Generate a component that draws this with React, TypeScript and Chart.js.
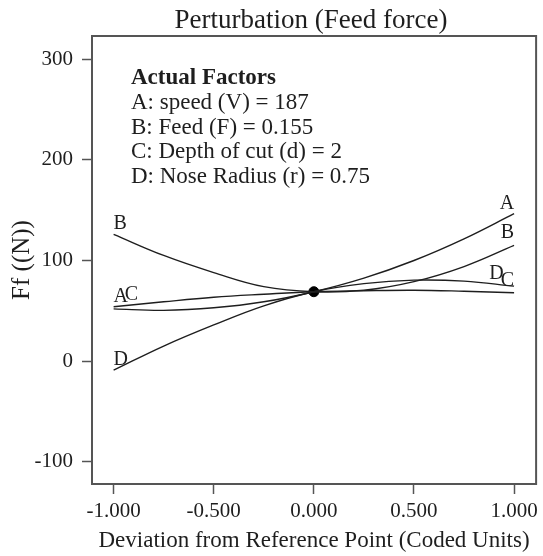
import React, { useEffect, useRef } from "react";
import { Chart, registerables } from "chart.js";

Chart.register(...registerables);

// Coded deviation from the reference point
const xValues = [-1, -0.75, -0.5, -0.25, 0, 0.25, 0.5, 0.75, 1];
// Feed force Ff (N) for each factor perturbation
const seriesA = [52, 50.5, 53, 59, 69, 82.5, 100, 121.5, 146.5];
const seriesB = [126, 105, 88, 74, 69, 70.5, 79, 94, 115];
const seriesC = [54, 59, 63.5, 66.5, 69, 70, 70.5, 69.5, 68];
const seriesD = [-9, 15, 36, 55, 69, 77, 80.5, 79.5, 74.5];
const referenceX = [0];
const referenceY = [69];

const xTicks = [-1, -0.5, 0, 0.5, 1];
const xTickLabels = ["-1.000", "-0.500", "0.000", "0.500", "1.000"];
const yTicks = [-100, 0, 100, 200, 300];
const yTickLabels = ["-100", "0", "100", "200", "300"];

const titleText = "Perturbation (Feed force)";
const xTitle = "Deviation from Reference Point (Coded Units)";
const yTitle = "Ff ((N))";
const factorsHeading = "Actual Factors";
const factorLines = [
  "A: speed (V) = 187",
  "B: Feed (F) = 0.155",
  "C: Depth of cut (d) = 2",
  "D: Nose Radius (r) = 0.75",
];

const curveLabelText = ["B", "A", "C", "D", "A", "B", "D", "C"];
const curveLabelX = [-1, -1, -0.945, -1, 1, 1, 0.876, 1];
const curveLabelY = [131, 59, 60.5, -4, 151.5, 122, 82, 74.5];
const curveLabelAlign = ["left", "left", "left", "left", "right", "right", "left", "right"];

const FONT = "'Liberation Serif', 'Times New Roman', serif";
const INK = "#1e1e1e";
const FRAME = "#555555";

function toPoints(ys: number[], xs: number[]) {
  return ys.map((y, i) => ({ x: xs[i], y }));
}

const decorPlugin = {
  id: "decor",
  afterDraw(chart: any) {
    const { ctx, chartArea, scales } = chart;
    const { left, top, right, bottom } = chartArea;
    ctx.save();
    // frame
    ctx.strokeStyle = FRAME;
    ctx.lineWidth = 2;
    ctx.strokeRect(left, top, right - left, bottom - top);

    // title
    ctx.fillStyle = INK;
    ctx.textAlign = "center";
    ctx.textBaseline = "alphabetic";
    ctx.font = `27px ${FONT}`;
    ctx.fillText(titleText, (left + right) / 2 - 3, 28);

    // actual factors block
    ctx.textAlign = "left";
    ctx.font = `bold 23px ${FONT}`;
    ctx.fillText(factorsHeading, left + 39, top + 48);
    ctx.font = `23px ${FONT}`;
    factorLines.forEach((line, i) => {
      ctx.fillText(line, left + 39, top + 73 + i * 24.7);
    });

    // curve labels
    ctx.font = `20px ${FONT}`;
    curveLabelText.forEach((t, i) => {
      ctx.textAlign = curveLabelAlign[i] as CanvasTextAlign;
      const px = scales.x.getPixelForValue(curveLabelX[i]);
      const py = scales.y.getPixelForValue(curveLabelY[i]);
      ctx.fillText(t, px, py);
    });
    ctx.restore();
  },
};

export default function App() {
  const canvasRef = useRef<HTMLCanvasElement | null>(null);

  useEffect(() => {
    if (!canvasRef.current) return;
    const lineStyle = {
      showLine: true,
      borderColor: INK,
      borderWidth: 1.4,
      pointRadius: 0,
      tension: 0.4,
      fill: false,
    };
    const chart = new Chart(canvasRef.current, {
      type: "scatter",
      data: {
        datasets: [
          { label: "A", data: toPoints(seriesA, xValues), ...lineStyle },
          { label: "B", data: toPoints(seriesB, xValues), ...lineStyle },
          { label: "C", data: toPoints(seriesC, xValues), ...lineStyle },
          { label: "D", data: toPoints(seriesD, xValues), ...lineStyle },
          {
            label: "Reference",
            data: toPoints(referenceY, referenceX),
            showLine: false,
            pointRadius: 5,
            backgroundColor: "#000",
            borderColor: "#000",
          },
        ],
      },
      options: {
        responsive: false,
        animation: false,
        layout: { padding: { left: 0, right: 4, top: 36, bottom: 0 } },
        plugins: {
          legend: { display: false },
          tooltip: { enabled: false },
          title: { display: false },
        },
        scales: {
          x: {
            type: "linear",
            min: -1.108,
            max: 1.11,
            afterFit: (s: any) => {
              s.height = 72;
            },
            afterBuildTicks: (s: any) => {
              s.ticks = xTicks.map((v) => ({ value: v }));
            },
            ticks: {
              color: INK,
              font: { family: FONT, size: 21 },
              padding: 5,
              maxRotation: 0,
              autoSkip: false,
              callback: (v: any) => {
                const i = xTicks.indexOf(Number(v));
                return i >= 0 ? xTickLabels[i] : "";
              },
            },
            grid: {
              drawOnChartArea: false,
              drawTicks: true,
              tickLength: 10,
              tickColor: FRAME,
              tickWidth: 1.5,
            },
            border: { display: false },
            title: {
              display: true,
              text: xTitle,
              color: INK,
              font: { family: FONT, size: 23 },
              padding: { top: 0, bottom: 1 },
            },
          },
          y: {
            type: "linear",
            min: -122,
            max: 323,
            afterFit: (s: any) => {
              s.width = 92;
            },
            afterBuildTicks: (s: any) => {
              s.ticks = yTicks.map((v) => ({ value: v }));
            },
            ticks: {
              color: INK,
              font: { family: FONT, size: 21 },
              padding: 9,
              autoSkip: false,
              callback: (v: any) => {
                const i = yTicks.indexOf(Number(v));
                return i >= 0 ? yTickLabels[i] : "";
              },
            },
            grid: {
              drawOnChartArea: false,
              drawTicks: true,
              tickLength: 10,
              tickColor: FRAME,
              tickWidth: 1.5,
            },
            border: { display: false },
            title: {
              display: true,
              text: yTitle,
              color: INK,
              font: { family: FONT, size: 25 },
              padding: { top: 7, bottom: 0 },
            },
          },
        },
      },
      plugins: [decorPlugin],
    } as any);
    return () => chart.destroy();
  }, []);

  return (
    <div style={{ position: "fixed", left: 0, top: 0, width: 543, height: 556, background: "#fff" }}>
      <canvas ref={canvasRef} width={543} height={556} style={{ display: "block" }} />
    </div>
  );
}
